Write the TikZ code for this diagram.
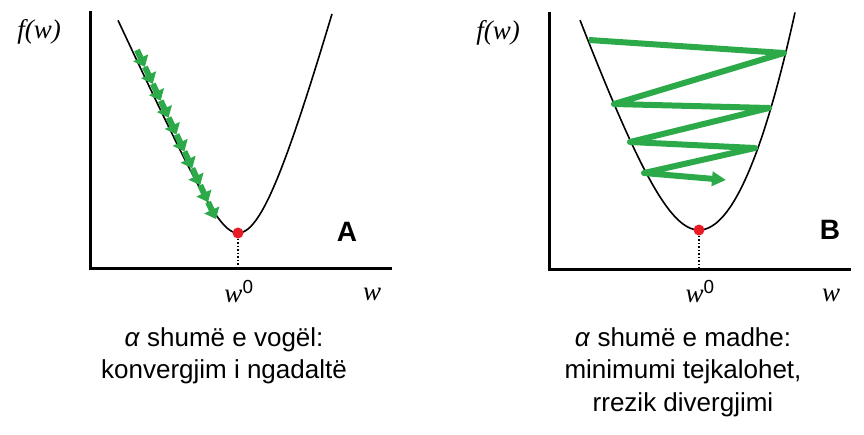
\documentclass[tikz,border=0pt]{standalone}
\usepackage{fontspec}
\setmainfont{Liberation Sans}
\newfontfamily\tmsfont{Liberation Serif}
\usepackage{tikz}
\usetikzlibrary{arrows.meta,calc}
\definecolor{stepgreen}{RGB}{44,170,74}
\definecolor{minred}{RGB}{232,28,36}
\tikzset{
  axisln/.style    = {line width=3pt,line cap=rect},
  costcv/.style    = {line width=1.6pt},
  minpt/.style     = {circle,fill=minred,inner sep=0pt,minimum size=11pt},
  proj/.style      = {dotted,line width=1.5pt},
  varlbl/.style    = {font=\tmsfont\itshape\fontsize{27}{27}\selectfont},
  panlbl/.style    = {font=\bfseries\fontsize{28}{28}\selectfont},
  caption/.style   = {align=center,font=\fontsize{26}{32.5}\selectfont},
  smallstep/.style = {stepgreen,line width=6pt,
                      -{Triangle[length=10pt,width=16pt]}},
  bigstep/.style   = {stepgreen,line width=6pt,line join=round,
                      -{Triangle[length=14pt,width=14pt]}},
}
% axes of one panel, origin at (#2,#3)
\newcommand{\costaxes}[3]{%
  \begin{scope}[shift={(#2,#3)}]
    \coordinate (#1-o) at (0,0);
    \coordinate (#1-top) at (0,-256);
    \coordinate (#1-end) at (300,0);
    \draw[axisln] (#1-top) -- (#1-o) -- (#1-end);
    \node[varlbl] (#1-f) at (-51,-236) {f(w)};
    \node[varlbl] (#1-w) at (282,26) {w};
  \end{scope}%
}

\begin{document}
\begin{tikzpicture}[x=1pt,y=-1pt]
  \useasboundingbox (0,0) rectangle (864,434);

  % panel A: small alpha
  \costaxes{a}{90}{268}
  \draw[costcv] plot[domain=-120:0,samples=60]
    ({238+\x},{233-2.18*(10*sqrt(\x*\x/100+6.25)-25)});
  \draw[costcv] plot[domain=0:94,samples=60]
    ({238+\x},{233-3.7*(10*sqrt(\x*\x/100+20.25)-45)});
  \node[minpt] (a-min) at (238,233) {};
  \draw[proj] (a-min) -- (a-min |- a-o);
  \node[varlbl] (a-w0) at (239,292) {w\textsuperscript{\normalfont 0}};
  \coordinate (a-s) at (137,50);
  \coordinate (a-e) at (216,219);
  \foreach \i in {0,...,9}
    \draw[smallstep] ($(a-s)!\i/10!(a-e)$) -- ($(a-s)!{(\i+1)/10}!(a-e)$);
  \node[panlbl] (a-lbl) at (347,232) {A};
  \node[caption] (a-cap) at (224,356)
    {\textit{α} shumë e vogël:\\konvergjim i ngadaltë};

  % panel B: large alpha
  \costaxes{b}{549}{269}
  \draw[costcv] plot[domain=-119:0,samples=60]
    ({699+\x},{230-2.865*(10*sqrt(\x*\x/100+36)-60)});
  \draw[costcv] plot[domain=0:96,samples=60]
    ({699+\x},{230-0.0236*\x*\x});
  \node[minpt] (b-min) at (699,230) {};
  \draw[proj] (b-min) -- (b-min |- b-o);
  \node[varlbl] (b-w0) at (700,292) {w\textsuperscript{\normalfont 0}};
  \coordinate (b-p1) at (589,40);
  \coordinate (b-p2) at (784,53);
  \coordinate (b-p3) at (614,104);
  \coordinate (b-p4) at (769,108);
  \coordinate (b-p5) at (630,142);
  \coordinate (b-p6) at (755,148);
  \coordinate (b-p7) at (644,173);
  \coordinate (b-p8) at (726,180);
  \draw[bigstep] (b-p1) -- (b-p2) -- (b-p3) -- (b-p4) -- (b-p5)
    -- (b-p6) -- (b-p7) -- (b-p8);
  \node[panlbl] (b-lbl) at (830,230) {B};
  \node[caption] (b-cap) at (683,372)
    {\textit{α} shumë e madhe:\\minimumi tejkalohet,\\rrezik divergjimi};
\end{tikzpicture}
\end{document}
